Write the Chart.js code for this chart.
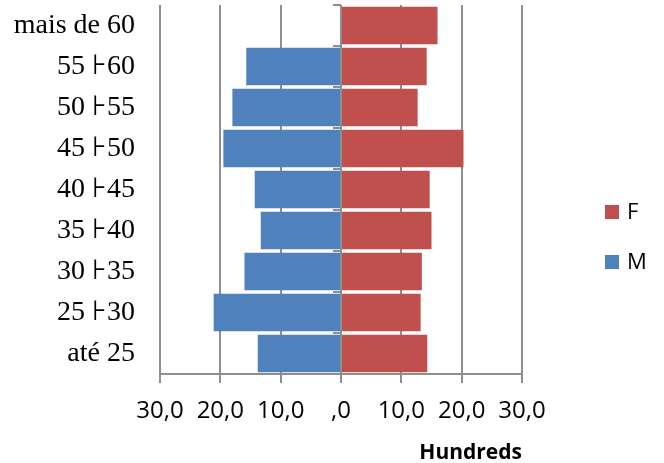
<!DOCTYPE html>
<html>
<head>
<meta charset="utf-8">
<script src="https://cdn.jsdelivr.net/npm/chart.js@4/dist/chart.umd.min.js"></script>
<style>
  body { margin: 0; background: #fff; }
  canvas { display: block; }
</style>
</head>
<body>
<canvas id="pyramid" width="664" height="463"></canvas>
<script>
// age groups, top to bottom
const ageGroups = ['mais de 60', '55 ⊦60', '50 ⊦55', '45 ⊦50', '40 ⊦45', '35 ⊦40', '30 ⊦35', '25 ⊦30', 'até 25'];
// values in hundreds
const maleValues = [0, 15.7, 18.0, 19.5, 14.3, 13.3, 16.0, 21.1, 13.8];
const femaleValues = [16.0, 14.2, 12.7, 20.3, 14.7, 15.0, 13.4, 13.2, 14.3];
const xTicks = [-30, -20, -10, 0, 10, 20, 30];

const gridGray = '#8e8e8e';

// zero axis with small category ticks, drawn over the bars like Excel does
const zeroAxis = {
  id: 'zeroAxis',
  afterDatasetsDraw(chart) {
    const { ctx, scales: { x, y }, chartArea } = chart;
    const x0 = Math.round(x.getPixelForValue(0));
    ctx.save();
    ctx.strokeStyle = gridGray;
    ctx.lineWidth = 2;
    ctx.beginPath();
    ctx.moveTo(x0, chartArea.top);
    ctx.lineTo(x0, chartArea.bottom + 9);
    for (let i = 0; i <= ageGroups.length; i++) {
      const yy = Math.round(y.getPixelForValue(i - 0.5));
      ctx.moveTo(x0 - 8, yy);
      ctx.lineTo(x0, yy);
    }
    ctx.stroke();
    ctx.restore();
  }
};

// legend at the right, F above M
const sideLegend = {
  id: 'sideLegend',
  afterDraw(chart) {
    const ctx = chart.ctx;
    const items = chart.data.datasets.slice().reverse();
    ctx.save();
    ctx.font = '22px "Open Sans"';
    ctx.textBaseline = 'middle';
    items.forEach((ds, i) => {
      const cy = 212 + i * 50;
      ctx.fillStyle = ds.backgroundColor;
      ctx.fillRect(605, cy - 7, 14, 14);
      ctx.fillStyle = '#000';
      ctx.fillText(ds.label, 627, cy + 1);
    });
    ctx.restore();
  }
};

new Chart(document.getElementById('pyramid'), {
  type: 'bar',
  data: {
    labels: ageGroups,
    datasets: [
      { label: 'M', data: maleValues.map(v => -v), backgroundColor: '#4F81BD' },
      { label: 'F', data: femaleValues, backgroundColor: '#C0504D' }
    ]
  },
  options: {
    indexAxis: 'y',
    responsive: false,
    animation: false,
    layout: { padding: { top: 5, right: 142, left: 0, bottom: 0 } },
    datasets: { bar: { categoryPercentage: 1, barPercentage: 0.91 } },
    plugins: {
      legend: { display: false },
      tooltip: { enabled: false }
    },
    scales: {
      x: {
        type: 'linear',
        stacked: true,
        min: -30,
        max: 30,
        afterBuildTicks: s => { s.ticks = xTicks.map(v => ({ value: v })); },
        afterFit: s => { s.height = 89; },
        grid: { color: gridGray, lineWidth: 2, tickLength: 9 },
        border: { color: gridGray, width: 2 },
        ticks: {
          color: '#000',
          font: { family: 'Open Sans', size: 24 },
          padding: 14,
          maxRotation: 0,
          callback: v => v === 0 ? ',0' : Math.abs(v).toFixed(1).replace('.', ',')
        },
        title: {
          display: true,
          text: 'Hundreds',
          align: 'end',
          color: '#000',
          font: { family: 'Open Sans', size: 21, weight: 'bold' },
          padding: { top: 0, bottom: -3 }
        }
      },
      y: {
        stacked: true,
        afterFit: s => { s.width = 160; s.paddingTop = 0; s.paddingBottom = 0; },
        grid: { display: false, drawTicks: false },
        border: { display: false },
        ticks: {
          color: '#000',
          font: { family: 'Liberation Serif', size: 28 },
          padding: 25
        }
      }
    }
  },
  plugins: [zeroAxis, sideLegend]
});
</script>
</body>
</html>
